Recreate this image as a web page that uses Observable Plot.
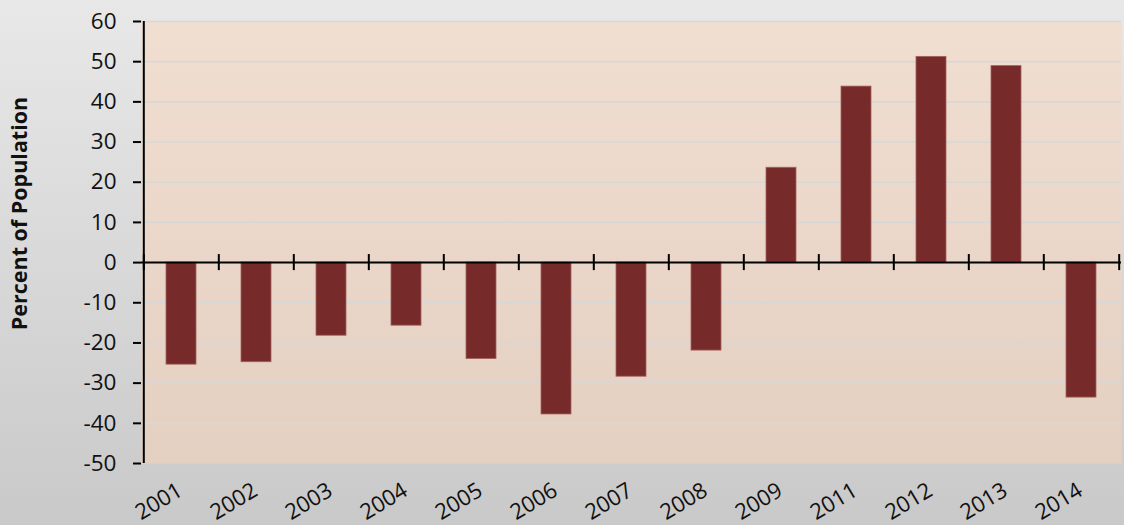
<!DOCTYPE html>
<html><head><meta charset="utf-8">
<script src="https://cdn.jsdelivr.net/npm/d3@7"></script>
<script src="https://cdn.jsdelivr.net/npm/@observablehq/plot@0.6"></script>
<style>
html,body{margin:0;padding:0;}
body{width:1124px;height:525px;background:linear-gradient(#e8e8e8,#c9c9c9);overflow:hidden;}
#chart svg{display:block;}
</style></head><body><div id="chart"></div>
<script>
const years = ["2001","2002","2003","2004","2005","2006","2007","2008","2009","2011","2012","2013","2014"];
const values = [-25.4,-24.8,-18.2,-15.7,-24.0,-37.8,-28.4,-21.9,23.6,43.8,51.2,48.9,-33.6];
const yTicks = [-50,-40,-30,-20,-10,0,10,20,30,40,50,60];
const yTitle = "Percent of Population";

const data = years.map((year, i) => ({year, value: values[i]}));
const W = 1124, H = 525, mL = 141, mR = 3, mT = 21, mB = 62;
const step = (W - mL - mR) / years.length;

const defs = () => {
  const d = d3.create("svg:defs");
  const g = d.append("linearGradient").attr("id", "plotbg").attr("x1", 0).attr("y1", 0).attr("x2", 0).attr("y2", 1);
  g.append("stop").attr("offset", "0%").attr("stop-color", "#f0ded1");
  g.append("stop").attr("offset", "100%").attr("stop-color", "#e4d0c1");
  return d.node();
};

const chart = Plot.plot({
  width: W, height: H,
  marginLeft: mL, marginRight: mR, marginTop: mT, marginBottom: mB,
  style: {fontFamily: "'Open Sans', sans-serif", fontSize: "22px", background: "transparent", color: "#111"},
  x: {type: "band", domain: years, paddingInner: 0.6, paddingOuter: 0.3},
  y: {domain: [-50, 60]},
  marks: [
    defs,
    Plot.frame({fill: "url(#plotbg)", stroke: "none"}),
    Plot.gridY(yTicks.filter(t => t !== 0 && t !== -50), {stroke: "#d7d7d7", strokeOpacity: 1, strokeWidth: 1.6}),
    Plot.barY(data, {x: "year", y: "value", fill: "#772a2a", stroke: "#a4625e", strokeWidth: 0.8}),
    Plot.ruleY([0], {stroke: "#000", strokeWidth: 2}),
    Plot.ruleX(years, {x: d => d, y1: -2, y2: 2, dx: -step / 2, stroke: "#000", strokeWidth: 2}),
    Plot.ruleX([years[years.length - 1]], {x: d => d, y1: -2, y2: 2, dx: step / 2, stroke: "#000", strokeWidth: 2}),
    Plot.ruleX([years[0]], {x: d => d, y1: -50, y2: 60, dx: -step / 2, stroke: "#000", strokeWidth: 2}),
    Plot.axisY({ticks: yTicks, tickFormat: d => String(d), tickSize: 8, tickPadding: 17, fontSize: 22.5, label: null, stroke: "#000", strokeWidth: 2, fill: "#111"}),
    Plot.axisX({tickSize: 0, tickRotate: -31, tickPadding: 25, dx: -1, fontSize: 22, label: null, fill: "#111"}),
    Plot.text([yTitle], {frameAnchor: "left", rotate: -90, dx: -121, dy: -29, fontSize: 21.5, fontWeight: "bold", textAnchor: "middle", lineAnchor: "middle", fill: "#111"})
  ]
});
document.getElementById("chart").appendChild(chart);
</script>
</body></html>
